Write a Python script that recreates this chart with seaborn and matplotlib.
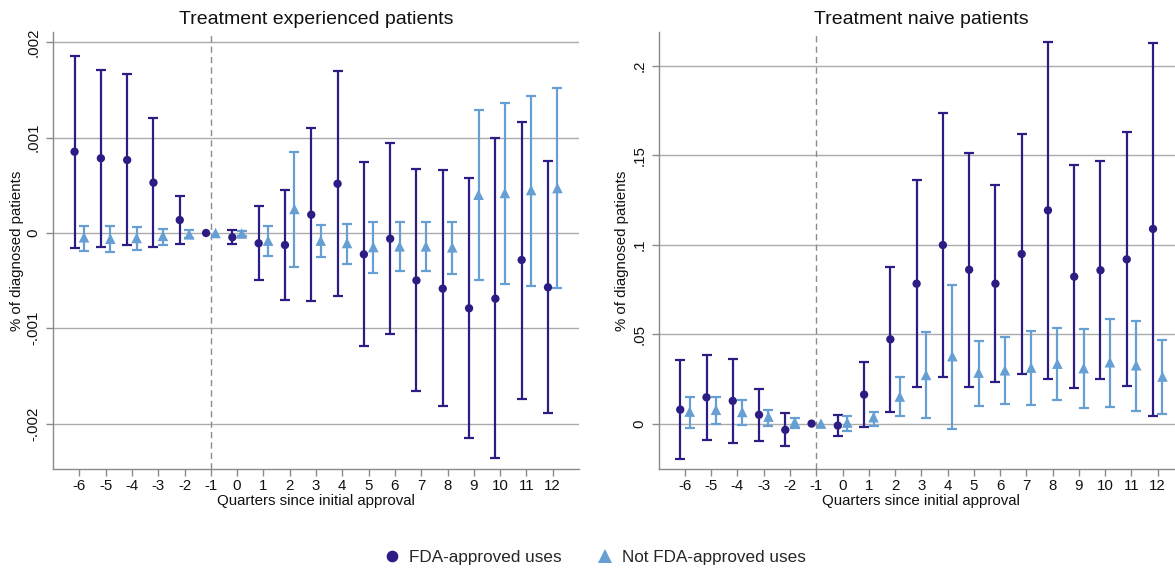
import numpy as np
import pandas as pd
import matplotlib
matplotlib.use("Agg")
import matplotlib.pyplot as plt
import seaborn as sns

# ---------------- data ----------------
quarters = list(range(-6, 13))
tick_labels = [str(q) for q in quarters]
series_names = ["FDA-approved uses", "Not FDA-approved uses"]
panel_titles = ["Treatment experienced patients", "Treatment naive patients"]
x_label = "Quarters since initial approval"
y_label = "% of diagnosed patients"
nan = np.nan

# Treatment experienced patients
exp_fda = [0.000853, 0.000784, 0.000766, 0.000528, 0.000136, 0.0, -0.000045, -0.000108, -0.000126,
           0.000192, 0.000517, -0.000224, -0.00006, -0.000497, -0.000584, -0.00079, -0.000689, -0.000283, -0.00057]
exp_fda_lo = [-0.000154, -0.000144, -0.000129, -0.000147, -0.000112, nan, -0.000119, -0.000493, -0.0007,
              -0.000717, -0.000661, -0.00119, -0.00106, -0.00166, -0.00182, -0.00215, -0.00236, -0.00174, -0.00189]
exp_fda_hi = [0.00186, 0.00171, 0.00167, 0.00121, 0.000391, nan, 0.00003, 0.00028, 0.000454,
              0.0011, 0.0017, 0.000742, 0.000944, 0.000668, 0.000661, 0.000577, 0.000994, 0.00117, 0.000752]
exp_off = [-0.000045, -0.00006, -0.000052, -0.00003, -0.000014, 0.0, -0.000005, -0.00008, 0.000252,
           -0.00008, -0.000105, -0.000147, -0.00014, -0.00014, -0.00015, 0.000402, 0.00042, 0.000451, 0.000472]
exp_off_lo = [-0.000192, -0.0002, -0.000182, -0.000129, -0.000052, nan, -0.000028, -0.000238, -0.00036,
              -0.000252, -0.000322, -0.000416, -0.000402, -0.000399, -0.000427, -0.000497, -0.000532, -0.000553, -0.00058]
exp_off_hi = [0.000073, 0.000073, 0.000066, 0.000042, 0.000035, nan, 0.000024, 0.000077, 0.000853,
              0.000084, 0.000098, 0.000119, 0.000119, 0.000119, 0.000112, 0.00129, 0.00136, 0.00144, 0.00152]

# Treatment naive patients
nai_fda = [0.0078, 0.0147, 0.0127, 0.0049, -0.0035, 0.0, -0.0011, 0.0162, 0.0471,
           0.0782, 0.0998, 0.086, 0.0782, 0.0948, 0.1192, 0.0821, 0.0857, 0.0918, 0.1088]
nai_fda_lo = [-0.0196, -0.0091, -0.0106, -0.0098, -0.0128, nan, -0.007, -0.002, 0.0067,
              0.0203, 0.0259, 0.0205, 0.0231, 0.0278, 0.0251, 0.0199, 0.025, 0.0209, 0.0045]
nai_fda_hi = [0.0356, 0.0386, 0.0361, 0.0196, 0.006, nan, 0.0047, 0.0346, 0.0874,
              0.136, 0.1737, 0.1514, 0.1332, 0.162, 0.2131, 0.1445, 0.1466, 0.1628, 0.2129]
nai_off = [0.0067, 0.0077, 0.0065, 0.0039, 0.0008, 0.0, 0.0006, 0.0036, 0.0151,
           0.0272, 0.0377, 0.0285, 0.0298, 0.0313, 0.0335, 0.031, 0.0343, 0.0326, 0.0263]
nai_off_lo = [-0.0022, 0.0, -0.0009, -0.0015, -0.0022, nan, -0.0039, -0.0011, 0.0045,
              0.003, -0.003, 0.0101, 0.0108, 0.0106, 0.0132, 0.0089, 0.0095, 0.0071, 0.0053]
nai_off_hi = [0.0149, 0.0149, 0.0132, 0.0077, 0.0034, nan, 0.0045, 0.0064, 0.0259,
              0.0514, 0.0777, 0.0464, 0.0484, 0.0516, 0.0533, 0.0527, 0.0585, 0.0575, 0.0468]

exp_yticks = [-0.002, -0.001, 0.0, 0.001, 0.002]
exp_yticklabels = ["-.002", "-.001", "0", ".001", ".002"]
nai_yticks = [0.0, 0.05, 0.1, 0.15, 0.2]
nai_yticklabels = ["0", ".05", ".1", ".15", ".2"]

# ---------------- style ----------------
sns.set_theme(style="ticks")
plt.rcParams["font.family"] = ["Liberation Sans", "DejaVu Sans"]

DARK = "#2c1d84"
LIGHT = "#669fd4"
GRID = "#ababab"
SPINE = "#8a8a8a"
palette = {series_names[0]: DARK, series_names[1]: LIGHT}
markers = {series_names[0]: "o", series_names[1]: "^"}
sizes = {series_names[0]: 36, series_names[1]: 58}
offsets = {series_names[0]: -0.18, series_names[1]: 0.18}


def build_df(fda, fda_lo, fda_hi, off, off_lo, off_hi):
    rows = []
    for name, est, lo, hi in [(series_names[0], fda, fda_lo, fda_hi),
                              (series_names[1], off, off_lo, off_hi)]:
        for q, e, l, h in zip(quarters, est, lo, hi):
            rows.append({"quarter": q, "series": name, "est": e, "lo": l, "hi": h})
    df = pd.DataFrame(rows)
    df["pos"] = df["quarter"] + df["series"].map(offsets)
    return df


panels = [
    (build_df(exp_fda, exp_fda_lo, exp_fda_hi, exp_off, exp_off_lo, exp_off_hi),
     exp_yticks, exp_yticklabels, (-0.002471, 0.002106)),
    (build_df(nai_fda, nai_fda_lo, nai_fda_hi, nai_off, nai_off_lo, nai_off_hi),
     nai_yticks, nai_yticklabels, (-0.0251, 0.2187)),
]

W, H = 1175, 569
fig = plt.figure(figsize=(W / 100, H / 100), dpi=100)
ax_rects = [
    (53 / W, 1 - 468.5 / H, (579 - 53) / W, (468.5 - 32.3) / H),
    (658.7 / W, 1 - 468.5 / H, (1184 - 658.7) / W, (468.5 - 32.3) / H),
]

handles, labels = None, None
for i, (df, yt, ytl, ylim) in enumerate(panels):
    ax = fig.add_axes(ax_rects[i])
    for t in yt:
        ax.axhline(t, color=GRID, lw=1.0, zorder=0)
    ax.axvline(-1, color="#8c8c8c", lw=1.0, dashes=(4.5, 3), zorder=1)

    for name in series_names:
        sub = df[df["series"] == name]
        yerr = np.vstack([sub["est"] - sub["lo"], sub["hi"] - sub["est"]])
        ax.errorbar(sub["pos"], sub["est"], yerr=yerr, fmt="none", ecolor=palette[name],
                    elinewidth=1.6, capsize=3.3, capthick=1.6, zorder=2)

    sns.scatterplot(data=df, x="pos", y="est", hue="series", style="series", size="series",
                    hue_order=series_names, style_order=series_names, size_order=series_names,
                    palette=palette, markers=markers, sizes=sizes, linewidth=0,
                    ax=ax, legend=(i == 0), zorder=3)
    if i == 0:
        handles, labels = ax.get_legend_handles_labels()
        ax.get_legend().remove()

    ax.set_xlim(-7, 13)
    ax.set_ylim(*ylim)
    ax.set_xticks(quarters)
    ax.set_xticklabels(tick_labels)
    ax.set_yticks(yt)
    ax.set_yticklabels(ytl, rotation=90, va="center")
    ax.tick_params(axis="both", direction="out", length=5, width=1, color=SPINE,
                   labelsize=10.8, labelcolor="#111111")
    ax.tick_params(axis="x", pad=2.5)
    ax.tick_params(axis="y", pad=4)
    for s in ["top", "right"]:
        ax.spines[s].set_visible(False)
    for s in ["left", "bottom"]:
        ax.spines[s].set_color(SPINE)
        ax.spines[s].set_linewidth(1)
    ax.set_xlabel(x_label, fontsize=10.8, labelpad=1, color="#111111")
    ax.set_ylabel(y_label, fontsize=10.8, labelpad=2, color="#111111")
    ax.set_title(panel_titles[i], fontsize=14, pad=6, color="#111111")

fig.legend(handles, labels, loc="center", bbox_to_anchor=(0.506, 0.021), ncol=2,
           frameon=False, fontsize=12.3, handlelength=1.0, handletextpad=0.5,
           columnspacing=2.0, markerscale=1.4)

fig.savefig("out.png", dpi=100)
